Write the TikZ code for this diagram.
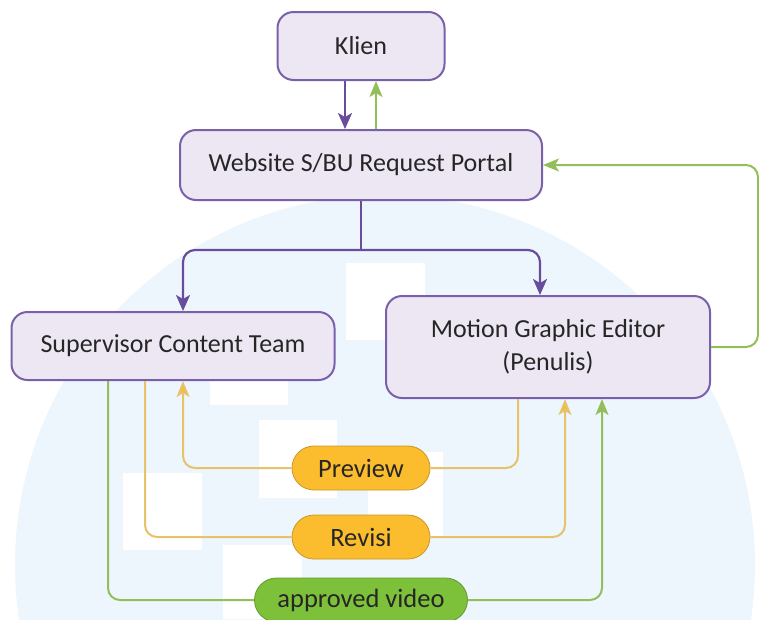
\documentclass[tikz,border=0pt]{standalone}
\usepackage{fontspec}
\setmainfont{Carlito}
\usetikzlibrary{arrows.meta}
\definecolor{bgblue}{HTML}{EEF6FD}
\definecolor{boxfill}{HTML}{EDE7F3}
\definecolor{boxline}{HTML}{7A60AA}
\definecolor{flowpurple}{HTML}{6A4C9C}
\definecolor{flowyellow}{HTML}{E6C26A}
\definecolor{pillyellow}{HTML}{FBBD2E}
\definecolor{flowgreen}{HTML}{93BF5A}
\definecolor{pillgreen}{HTML}{7DC13A}
\definecolor{txt}{HTML}{262626}

\begin{document}
\begin{tikzpicture}[x=1pt,y=-1pt,
  box/.style={draw=boxline,fill=boxfill,text=txt,line width=2pt,rounded corners=16pt,align=center,font=\fontsize{26}{33}\selectfont},
  pill/.style={draw=#1!80!black,fill=#1,text=txt,line width=0.8pt,rounded corners=22pt,minimum height=44pt,font=\fontsize{26.5}{30}\selectfont},
  flowp/.style={draw=flowpurple,line width=2.2pt,rounded corners=12pt,-{Stealth[length=16pt,width=14pt,inset=4pt]}},
  flowy/.style={draw=flowyellow,line width=2pt,rounded corners=12pt,-{Stealth[length=16pt,width=13pt,inset=4pt,fill=pillyellow]}},
  flowg/.style={draw=flowgreen,line width=2pt,rounded corners=12pt,-{Stealth[length=16pt,width=13pt,inset=4pt]}}]
\useasboundingbox (0,0) rectangle (759,619);
% faint background
\begin{scope}
\clip (0,0) rectangle (759,619);
\fill[bgblue] (385,565) circle (370pt);
\fill[white] (346,263) rectangle (425,340);
\fill[white] (210,330) rectangle (288,405);
\fill[white] (259,420) rectangle (337,498);
\fill[white] (123,473) rectangle (202,550);
\fill[white] (223,545) rectangle (302,619);
\fill[white] (368,452) rectangle (443,537);
\end{scope}
% nodes
\node[box,minimum width=167pt,minimum height=68pt] (kl) at (361,46) {Klien};
\node[box,minimum width=362pt,minimum height=70pt] (web) at (361,165) {Website S/BU Request Portal};
\node[box,minimum width=323pt,minimum height=68pt] (sup) at (173,346) {Supervisor Content Team};
\node[box,minimum width=324pt,minimum height=102pt] (mge) at (548,347) {Motion Graphic Editor\\(Penulis)};
\node[pill=pillyellow,minimum width=138pt] (prev) at (361,468) {Preview};
\node[pill=pillyellow,minimum width=138pt] (rev) at (361,537) {Revisi};
\node[pill=pillgreen,minimum width=213pt] (appr) at (361,600) {approved video};
\coordinate (split) at (361,250);
% connectors
\draw[flowp] ([xshift=-16pt]kl.south) -- ([xshift=-16pt]kl.south |- web.north);
\draw[flowg] ([xshift=15pt]web.north) -- ([xshift=15pt]web.north |- kl.south);
\draw[flowpurple,line width=2.2pt] (web.south) -- (split);
\draw[flowp] (split) -| ([xshift=10pt]sup.north);
\draw[flowp] (split) -| ([xshift=-8pt]mge.north);
\draw[flowg] (mge.east) -- ++(47,0) |- (web.east);
\draw[flowy,-] ([xshift=-30pt]mge.south) |- (prev.east);
\draw[flowy] (prev.west) -| ([xshift=10pt]sup.south);
\draw[flowy,-] ([xshift=-28pt]sup.south) |- (rev.west);
\draw[flowy] (rev.east) -| ([xshift=17pt]mge.south);
\draw[flowg,-] ([xshift=-65pt]sup.south) |- (appr.west);
\draw[flowg] (appr.east) -| ([xshift=54pt]mge.south);
\end{tikzpicture}
\end{document}
